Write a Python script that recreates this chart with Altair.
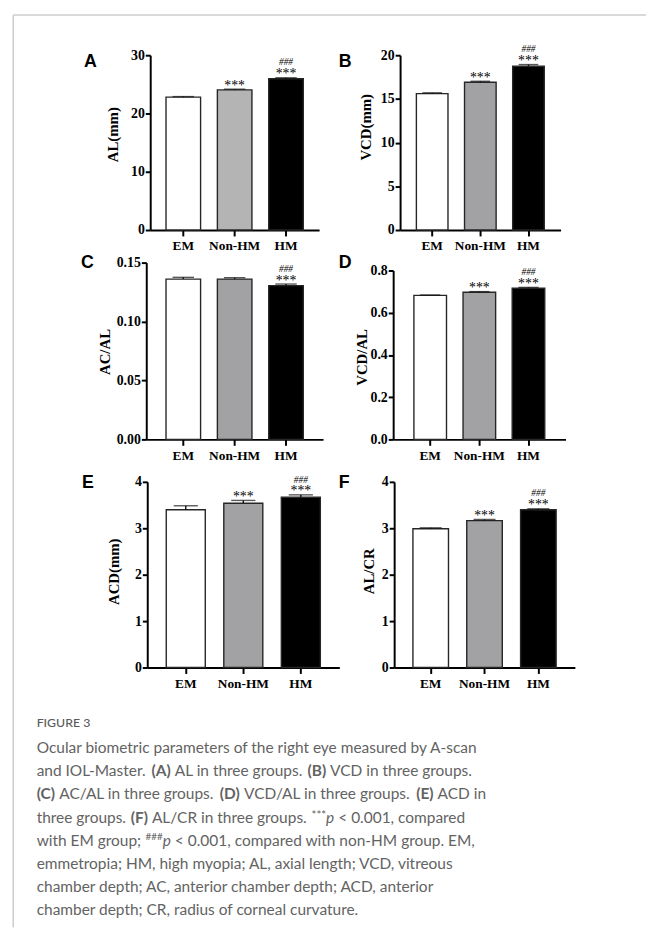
import glob
import struct

import altair as alt
import pandas as pd

# ---------------- data ----------------
groups = ["EM", "Non-HM", "HM"]

al_mean = [22.8, 24.05, 25.95]
al_err = [0.1, 0.12, 0.18]
vcd_mean = [15.6, 16.9, 18.75]
vcd_err = [0.1, 0.12, 0.18]
acal_mean = [0.136, 0.136, 0.1305]
acal_err = [0.0015, 0.0012, 0.0013]
vcdal_mean = [0.682, 0.697, 0.716]
vcdal_err = [0.002, 0.003, 0.004]
acd_mean = [3.40, 3.54, 3.67]
acd_err = [0.085, 0.06, 0.05]
alcr_mean = [2.99, 3.165, 3.40]
alcr_err = [0.02, 0.025, 0.02]

stars_std = ["", "***", "***"]
stars_c = ["", "", "***"]
hashes_all = ["", "", "###"]

caption_head = "FIGURE 3"
caption_lines = [
    [("Ocular biometric parameters of the right eye measured by A-scan", "r")],
    [("and IOL-Master. ", "r"), ("(A)", "b"), (" AL in three groups. ", "r"),
     ("(B)", "b"), (" VCD in three groups.", "r")],
    [("(C)", "b"), (" AC/AL in three groups. ", "r"), ("(D)", "b"),
     (" VCD/AL in three groups. ", "r"), ("(E)", "b"), (" ACD in", "r")],
    [("three groups. ", "r"), ("(F)", "b"), (" AL/CR in three groups. ", "r"),
     ("***", "a"), ("p", "i"), (" < 0.001, compared", "r")],
    [("with EM group; ", "r"), ("###", "s"), ("p", "i"),
     (" < 0.001, compared with non-HM group. EM,", "r")],
    [("emmetropia; HM, high myopia; AL, axial length; VCD, vitreous", "r")],
    [("chamber depth; AC, anterior chamber depth; ACD, anterior", "r")],
    [("chamber depth; CR, radius of corneal curvature.", "r")],
]

# ---------------- layout (page pixels) ----------------
W, H = 646, 925
OX, OY = 8, 8
CAP_SIZE = 15.65
CAP_X = 37
caption_base0 = 756.5
caption_step = 23.5
CAP_COLOR = "#636363"


# --- text measuring from the installed Lato files (fallback: average widths) ---
def _font_measurer(patterns, fallback_em):
    path = None
    for pat in patterns:
        hits = sorted(glob.glob(pat, recursive=True))
        if hits:
            path = hits[0]
            break
    try:
        with open(path, "rb") as f:
            data = f.read()
        u16 = lambda o: struct.unpack(">H", data[o:o + 2])[0]
        i16 = lambda o: struct.unpack(">h", data[o:o + 2])[0]
        u32 = lambda o: struct.unpack(">I", data[o:o + 4])[0]
        ntab = u16(4)
        tabs = {}
        for i in range(ntab):
            r = 12 + 16 * i
            tabs[data[r:r + 4].decode("latin-1")] = u32(r + 8)
        upem = u16(tabs["head"] + 18)
        nhm = u16(tabs["hhea"] + 34)
        hm = tabs["hmtx"]
        advs = [u16(hm + 4 * i) for i in range(nhm)]
        cm = tabs["cmap"]
        sub = None
        for i in range(u16(cm + 2)):
            pid, eid, off = u16(cm + 4 + 8 * i), u16(cm + 6 + 8 * i), u32(cm + 8 + 8 * i)
            if u16(cm + off) == 4 and (pid == 0 or (pid == 3 and eid == 1)):
                sub = cm + off
                break
        segx2 = u16(sub + 6)
        eo = sub + 14
        so = eo + segx2 + 2
        do = so + segx2
        ro = do + segx2

        def gid(ch):
            code = ord(ch)
            for i in range(segx2 // 2):
                if code <= u16(eo + 2 * i):
                    st = u16(so + 2 * i)
                    if code < st:
                        return 0
                    dl = i16(do + 2 * i)
                    r = u16(ro + 2 * i)
                    if r == 0:
                        return (code + dl) & 0xFFFF
                    g = u16(ro + 2 * i + r + 2 * (code - st))
                    return (g + dl) & 0xFFFF if g else 0
            return 0

        def width(s, size):
            return sum(advs[min(gid(c), nhm - 1)] for c in s) * size / upem
        width("test", 10)
        return width
    except Exception:
        return lambda s, size: len(s) * fallback_em * size


ROOTS = ["/usr/share/fonts/**/", "/usr/local/share/fonts/**/", "/root/.fonts/**/",
         "/usr/share/fonts/"]
w_reg = _font_measurer([r + "Lato-Regular.*" for r in ROOTS] +
                       [r + "*Lato*Regular*" for r in ROOTS], 0.47)
w_bold = _font_measurer([r + "Lato-Bold.*" for r in ROOTS] +
                        [r + "*Lato*Bold.*" for r in ROOTS], 0.5)
w_ital = _font_measurer([r + "Lato-Italic.*" for r in ROOTS] +
                        [r + "*Lato*Italic*" for r in ROOTS], 0.47)

panels = [
    dict(letter="A", mean=al_mean, err=al_err, stars=stars_std, hashes=hashes_all,
         ax=152, c0=185.5, step=52, barw=35, yb=227, yt=50, domain=[0, 30],
         ticks=[0, 10, 20, 30], fmt="d", title="AL(mm)", tx=114, ty=130,
         lx=85, ly=62, gray="#b3b4b3"),
    dict(letter="B", mean=vcd_mean, err=vcd_err, stars=stars_std, hashes=hashes_all,
         ax=405, c0=437.5, step=48.75, barw=32, yb=227, yt=50, domain=[0, 20],
         ticks=[0, 5, 10, 15, 20], fmt="d", title="VCD(mm)", tx=370, ty=122.5,
         lx=343, ly=62, gray="#a2a2a5"),
    dict(letter="C", mean=acal_mean, err=acal_err, stars=stars_c, hashes=hashes_all,
         ax=148, c0=185.5, step=52, barw=35, yb=439, yt=260, domain=[0, 0.15],
         ticks=[0, 0.05, 0.10, 0.15], fmt=".2f", title="AC/AL", tx=106, ty=350,
         lx=82, ly=265, gray="#a2a2a5"),
    dict(letter="D", mean=vcdal_mean, err=vcdal_err, stars=stars_std, hashes=hashes_all,
         ax=398, c0=435.5, step=49.75, barw=33, yb=439, yt=268, domain=[0, 0.8],
         ticks=[0, 0.2, 0.4, 0.6, 0.8], fmt=".1f", title="VCD/AL", tx=366, ty=355.5,
         lx=343, ly=265, gray="#a2a2a5"),
    dict(letter="E", mean=acd_mean, err=acd_err, stars=stars_std, hashes=hashes_all,
         ax=149, c0=188, step=58.25, barw=39.5, yb=670, yt=482, domain=[0, 4],
         ticks=[0, 1, 2, 3, 4], fmt="d", title="ACD(mm)", tx=114.5, ty=572.5,
         lx=83, ly=488, gray="#a2a2a5"),
    dict(letter="F", mean=alcr_mean, err=alcr_err, stars=stars_std, hashes=hashes_all,
         ax=399, c0=436, step=54.5, barw=36, yb=670, yt=482, domain=[0, 4],
         ticks=[0, 1, 2, 3, 4], fmt="d", title="AL/CR", tx=373.5, ty=572,
         lx=343, ly=488, gray="#a2a2a5"),
]

ONE = alt.Data(values=[{"k": 1}])


def text_at(x, y, s, size=CAP_SIZE, weight="normal", style="normal", color=CAP_COLOR,
            font="Lato"):
    return alt.Chart(ONE).mark_text(
        text=s, font=font, fontSize=size, fontWeight=weight, fontStyle=style,
        color=color, align="left", baseline="alphabetic"
    ).encode(x=alt.value(x - OX), y=alt.value(y - OY))


def make_panel(p):
    df = pd.DataFrame({
        "group": groups,
        "mean": p["mean"],
        "upper": [m + e for m, e in zip(p["mean"], p["err"])],
        "stars": p["stars"],
        "hashes": p["hashes"],
    })
    pi = 1 - p["barw"] / p["step"]
    po = (p["c0"] - p["ax"] - p["barw"] / 2) / p["step"]
    span = p["step"] * (3 - pi + 2 * po)
    x0 = p["ax"] - OX
    xscale = alt.Scale(domain=groups, range=[x0, x0 + span],
                       paddingInner=pi, paddingOuter=po)
    yscale = alt.Scale(domain=p["domain"], range=[p["yb"] - OY, p["yt"] - OY],
                       nice=False, zero=True)
    xaxis = alt.Axis(orient="bottom", offset=(p["yb"] - OY) - H, title=None,
                     labelAngle=0, labelFontSize=13.5, labelPadding=3, tickSize=6)
    yaxis = alt.Axis(orient="left", offset=-x0, values=p["ticks"], format=p["fmt"],
                     title=p["title"], titleX=p["tx"] - p["ax"], titleY=p["ty"] - OY,
                     titleAngle=270, titleBaseline="middle", titleAlign="center")
    X = lambda: alt.X("group:N", scale=xscale, axis=xaxis, sort=groups)
    base = alt.Chart(df)
    bars = base.mark_bar(stroke="#262626", strokeWidth=1.4).encode(
        x=X(),
        y=alt.Y("mean:Q", scale=yscale, axis=yaxis),
        fill=alt.Fill("group:N", scale=alt.Scale(domain=groups,
                      range=["#ffffff", p["gray"], "#000000"]), legend=None),
    )
    err = base.mark_rule(color="#111111", strokeWidth=1.4).encode(
        x=X(), y=alt.Y("mean:Q", scale=yscale, axis=yaxis), y2="upper:Q")
    cap = base.mark_tick(color="#111111", thickness=1.4, size=p["barw"] * 0.62).encode(
        x=X(), y=alt.Y("upper:Q", scale=yscale, axis=yaxis))
    stars = base.mark_text(font="Liberation Serif", fontSize=14, baseline="alphabetic",
                           dy=0.5, color="#000000").encode(
        x=X(), y=alt.Y("upper:Q", scale=yscale, axis=yaxis), text="stars:N")
    hashes = base.mark_text(font="Liberation Serif", fontSize=9.5, fontStyle="italic",
                            baseline="alphabetic", dy=-12.5, color="#000000").encode(
        x=X(), y=alt.Y("upper:Q", scale=yscale, axis=yaxis), text="hashes:N")
    letter = text_at(p["lx"], p["ly"], p["letter"], size=18, weight="bold",
                     color="#000000", font="Liberation Sans")
    return alt.layer(bars, err, cap, stars, hashes, letter)


layers = [make_panel(p) for p in panels]

# frame lines (page decoration)
FRAME = "#cccccc"
layers.append(alt.Chart(ONE).mark_rule(color=FRAME, strokeWidth=1.5).encode(
    x=alt.value(13.3 - OX), x2=alt.value(W), y=alt.value(9.3 - OY)))
layers.append(alt.Chart(ONE).mark_rule(color=FRAME, strokeWidth=1.5).encode(
    x=alt.value(13.3 - OX), y=alt.value(9.3 - OY), y2=alt.value(H)))

# caption
layers.append(text_at(CAP_X, 730, caption_head, size=12.5, weight=500, color="#5a5a5a"))
STYLE = {
    "r": (w_reg, CAP_SIZE, {}, 0),
    "b": (w_bold, CAP_SIZE, dict(weight="bold"), 0),
    "i": (w_ital, CAP_SIZE, dict(style="italic"), 0),
    "a": (w_reg, 11.5, dict(size=11.5), -3.5),   # superscript asterisks
    "s": (w_reg, 10, dict(size=10), -6),          # superscript hashes
}
for i, segs in enumerate(caption_lines):
    yb = caption_base0 + i * caption_step
    cursor = CAP_X
    for s, kind in segs:
        lead = s[:len(s) - len(s.lstrip())]
        core = s.strip()
        meas, size, kw, dy = STYLE[kind]
        x_text = cursor + w_reg(lead, CAP_SIZE)
        layers.append(text_at(x_text, yb + dy, core, **kw))
        cursor += meas(s, size)

chart = alt.layer(*layers).resolve_scale(
    x="independent", y="independent", fill="independent"
).properties(
    width=W, height=H, padding=0,
    autosize=alt.AutoSizeParams(type="none"),
).configure_view(stroke=None).configure_axis(
    grid=False, domainColor="#000000", domainWidth=2, tickColor="#000000",
    tickWidth=2, tickSize=5, labelFont="Liberation Serif", labelFontWeight="bold",
    labelFontSize=14, labelColor="#000000", labelPadding=1,
    titleFont="Liberation Serif", titleFontWeight="bold", titleFontSize=15,
    titleColor="#000000",
)

chart.save("out.html", embed_options={"renderer": "svg", "actions": False})
